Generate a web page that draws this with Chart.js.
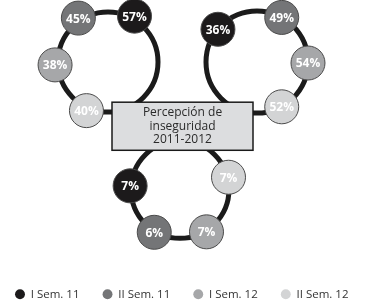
<!DOCTYPE html>
<html>
<head>
<meta charset="utf-8">
<script src="https://cdn.jsdelivr.net/npm/chart.js@4.4.1/dist/chart.umd.min.js"></script>
<style>
  html, body { margin: 0; padding: 0; background: #fff; }
  #wrap { width: 391px; height: 308px; }
</style>
</head>
<body>
<div id="wrap"><canvas id="insegChart"></canvas></div>
<script>
// one value per ring (left, right, bottom) for each semester
const semesters = ["I Sem. 11", "II Sem. 11", "I Sem. 12", "II Sem. 12"];
const semI11 = [57, 36, 7];
const semII11 = [45, 49, 6];
const semI12 = [38, 54, 7];
const semII12 = [40, 52, 7];
const semColors = ["#1c1a1b", "#747577", "#a6a7a9", "#d3d4d5"];
const centerTitle = ["Percepción de", "inseguridad", "2011-2012"];

// layout of the rings (plot units = pixels of the canvas)
const CHART_W = 391, CHART_H = 265;
const ringLayout = [
    { cx: 108, cy: 62, r: 50, dist: 53, angles: [-60, -124, 177, 114] },
    { cx: 257, cy: 62, r: 51, dist: 51, angles: [-140, -61, 1, 61] },
    { cx: 180, cy: 189, r: 49, dist: 50, angles: [184, 121, 58, -14] }
];
const titleBox = { x1: 112, x2: 253, y1: 102, y2: 150 };

function ringPoints(semIndex) {
    return ringLayout.map(function(ring) {
        const a = ring.angles[semIndex] * Math.PI / 180;
        return { x: ring.cx + ring.dist * Math.cos(a), y: ring.cy + ring.dist * Math.sin(a) };
    });
}

const allValues = [semI11, semII11, semI12, semII12];

const ringsPlugin = {
    id: "rings",
    beforeDatasetsDraw: function(chart) {
        const ctx = chart.ctx;
        const xs = chart.scales.x, ys = chart.scales.y;
        const k = xs.getPixelForValue(1) - xs.getPixelForValue(0);
        ctx.save();
        ctx.strokeStyle = "#1b1b1b";
        ctx.lineWidth = 5;
        ringLayout.forEach(function(ring) {
            ctx.beginPath();
            ctx.arc(xs.getPixelForValue(ring.cx), ys.getPixelForValue(ring.cy), ring.r * k, 0, Math.PI * 2);
            ctx.stroke();
        });
        // title box on top of the rings
        const bx = xs.getPixelForValue(titleBox.x1), by = ys.getPixelForValue(titleBox.y1);
        const bw = xs.getPixelForValue(titleBox.x2) - bx, bh = ys.getPixelForValue(titleBox.y2) - by;
        ctx.fillStyle = "#dcdddf";
        ctx.fillRect(bx, by, bw, bh);
        ctx.lineWidth = 1.5;
        ctx.strokeStyle = "#1a1a1a";
        ctx.strokeRect(bx, by, bw, bh);
        ctx.fillStyle = "#2a2a2a";
        ctx.font = "12px 'Open Sans'";
        ctx.textAlign = "center";
        ctx.textBaseline = "middle";
        const midY = by + bh / 2;
        centerTitle.forEach(function(line, i) {
            ctx.fillText(line, bx + bw / 2, midY + (i - 1) * 13.5);
        });
        ctx.restore();
    },
    afterDatasetsDraw: function(chart) {
        const ctx = chart.ctx;
        ctx.save();
        ctx.fillStyle = "#fff";
        ctx.font = "bold 12px 'Open Sans'";
        ctx.textAlign = "center";
        ctx.textBaseline = "middle";
        chart.data.datasets.forEach(function(dataset, i) {
            const meta = chart.getDatasetMeta(i);
            meta.data.forEach(function(pt, j) {
                ctx.fillText(allValues[i][j] + "%", pt.x, pt.y + 1);
            });
        });
        ctx.restore();
    }
};

const ctx = document.getElementById("insegChart").getContext("2d");

new Chart(ctx, {
    type: "bubble",
    data: {
        datasets: semesters.map(function(name, i) {
            return {
                label: name,
                data: ringPoints(i),
                radius: 17,
                backgroundColor: semColors[i],
                borderColor: "#4a4a4a",
                borderWidth: 1,
                clip: false
            };
        })
    },
    options: {
        responsive: true,
        maintainAspectRatio: false,
        animation: false,
        layout: { autoPadding: false, padding: { top: 0, left: -8, right: 0, bottom: -2 } },
        scales: {
            x: { display: false, min: 0, max: CHART_W },
            y: { display: false, min: 0, max: CHART_H, reverse: true }
        },
        plugins: {
            tooltip: { enabled: false },
            legend: {
                position: "bottom",
                align: "start",
                labels: {
                    usePointStyle: true,
                    pointStyle: "circle",
                    boxWidth: 10,
                    boxHeight: 7,
                    padding: 23,
                    color: "#333",
                    font: { family: "'Open Sans'", size: 11.5 },
                    generateLabels: function(chart) {
                        return Chart.defaults.plugins.legend.labels.generateLabels(chart).map(function(item) {
                            item.strokeStyle = item.fillStyle;
                            item.lineWidth = 0;
                            return item;
                        });
                    }
                }
            }
        }
    },
    plugins: [ringsPlugin]
});
</script>
</body>
</html>
